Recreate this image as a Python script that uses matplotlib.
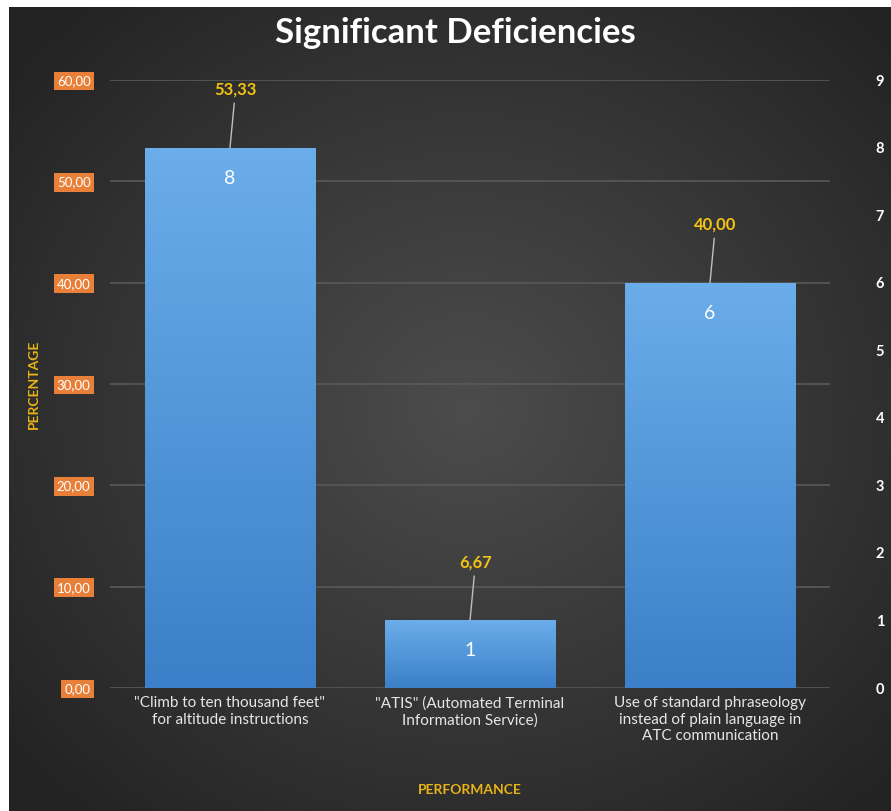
import numpy as np
import matplotlib
matplotlib.use("Agg")
import matplotlib.pyplot as plt
from matplotlib.colors import LinearSegmentedColormap

plt.rcParams["font.family"] = ["Lato", "DejaVu Sans"]

categories = ['"Climb to ten thousand feet"\nfor altitude instructions',
              '"ATIS" (Automated Terminal\nInformation Service)',
              'Use of standard phraseology\ninstead of plain language in\nATC communication']
percentages = [53.33, 6.67, 40.00]
counts = [8, 1, 6]
pct_labels = ["53,33", "6,67", "40,00"]
left_ticks = [0, 10, 20, 30, 40, 50, 60]
left_tick_labels = ["0,00", "10,00", "20,00", "30,00", "40,00", "50,00", "60,00"]
right_ticks = list(range(10))

W, H = 891, 811
fig = plt.figure(figsize=(W / 100, H / 100), dpi=100, facecolor="white")

# dark radial background
bg = fig.add_axes([9 / W, 0, 1 - 9 / W, 1 - 7 / H])
bg.set_axis_off()
yy, xx = np.mgrid[0:1:400j, 0:1:440j]
r = np.sqrt(((xx - 0.52) / 0.75) ** 2 + ((yy - 0.5) / 0.75) ** 2)
bg_cmap = LinearSegmentedColormap.from_list("bg", ["#4c4c4c", "#383838", "#232323"])
bg.imshow(r, cmap=bg_cmap, aspect="auto", extent=[0, 1, 0, 1], vmin=0, vmax=0.9)
bg.set_xlim(0, 1)
bg.set_ylim(0, 1)

ax = fig.add_axes([110 / W, 1 - 688 / H, 720 / W, 608 / H])
ax.patch.set_alpha(0)
x = np.arange(len(categories))
bars = ax.bar(x, percentages, width=0.71, color="#5b9bd5", zorder=2)
grad = LinearSegmentedColormap.from_list("bar", ["#3b80c8", "#6badea"])
for b in bars:
    x0, y0, w, h = b.get_x(), b.get_y(), b.get_width(), b.get_height()
    im = ax.imshow(np.linspace(0, 1, 100).reshape(-1, 1), cmap=grad, origin="lower",
                   extent=[x0, x0 + w, y0, y0 + h], aspect="auto", zorder=3)
    im.set_clip_path(b)
ax.set_xlim(-0.5, 2.5)
ax.set_ylim(0, 60)
ax.set_yticks(left_ticks)
ax.set_yticklabels(left_tick_labels)
ax.grid(axis="y", color="#595959", lw=1.2, zorder=0)
ax.set_axisbelow(True)
for s in ax.spines.values():
    s.set_visible(False)
ax.tick_params(axis="both", length=0)
ax.tick_params(axis="y", pad=14, labelsize=9.5, labelcolor="white")
for lab in ax.get_yticklabels():
    lab.set_bbox(dict(boxstyle="square,pad=0.25", fc="#e8803a", ec="none"))
ax.set_xticks(x)
ax.set_xticklabels(categories, color="#e6e6e6", fontsize=11)
ax.tick_params(axis="x", pad=6)

for xi, p, c, lbl in zip(x, percentages, counts, pct_labels):
    ax.annotate(lbl, xy=(xi, p), xytext=(4, 36), textcoords="offset points",
                ha="center", va="bottom", color="#f2c314", fontsize=12, fontweight="bold",
                arrowprops=dict(arrowstyle="-", color="#bfbfbf", lw=1, shrinkA=2, shrinkB=0),
                zorder=5)
    ax.annotate(str(c), xy=(xi, p), xytext=(0, -22), textcoords="offset points",
                ha="center", va="center", color="white", fontsize=14, zorder=5)

ax.set_ylabel("PERCENTAGE", color="#e8b317", fontsize=10, fontweight="bold", labelpad=12)
ax.set_xlabel("PERFORMANCE", color="#e8b317", fontsize=10, fontweight="bold", labelpad=30)

ax2 = ax.twinx()
ax2.set_ylim(0, 9)
ax2.set_yticks(right_ticks)
for s in ax2.spines.values():
    s.set_visible(False)
ax2.tick_params(axis="y", length=0, pad=33, labelsize=10.5, labelcolor="white")
for lab in ax2.get_yticklabels():
    lab.set_fontweight("bold")

fig.text(455 / W, 1 - 33 / H, "Significant Deficiencies", ha="center", va="center",
         color="white", fontsize=25, fontweight="bold")

fig.savefig("out.png", dpi=100, facecolor="white")
